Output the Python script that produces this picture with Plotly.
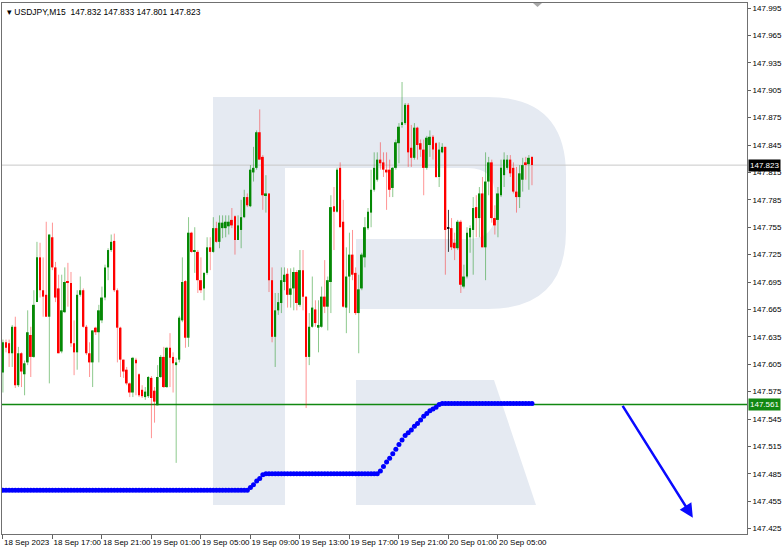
import plotly.graph_objects as go

# ---------------- data (USDJPY M15) ----------------
time_labels = ["18 Sep 2023", "18 Sep 17:00", "18 Sep 21:00", "19 Sep 01:00", "19 Sep 05:00",
               "19 Sep 09:00", "19 Sep 13:00", "19 Sep 17:00", "19 Sep 21:00", "20 Sep 01:00",
               "20 Sep 05:00"]
bars_per_label = 16

opens = [
    147.596, 147.629, 147.628, 147.617, 147.646, 147.582, 147.617, 147.594, 147.607, 147.637,
    147.613, 147.673, 147.722, 147.686, 147.681, 147.657, 147.744, 147.711, 147.688, 147.619,
    147.662, 147.696, 147.694, 147.628, 147.618, 147.681, 147.686, 147.646, 147.617, 147.607,
    147.645, 147.640, 147.653, 147.678, 147.711, 147.730, 147.740, 147.686, 147.645, 147.610,
    147.599, 147.584, 147.574, 147.610, 147.594, 147.577, 147.569, 147.570, 147.590, 147.576,
    147.560, 147.591, 147.613, 147.580, 147.623, 147.613, 147.604, 147.610, 147.653, 147.696,
    147.634, 147.749, 147.728, 147.728, 147.697, 147.688, 147.705, 147.733, 147.728, 147.754,
    147.739, 147.754, 147.754, 147.756, 147.763, 147.767, 147.741, 147.752, 147.766, 147.788,
    147.778, 147.815, 147.820, 147.859, 147.832, 147.790, 147.792, 147.697, 147.635, 147.664,
    147.672, 147.695, 147.704, 147.681, 147.688, 147.706, 147.670, 147.708, 147.679, 147.613,
    147.646, 147.665, 147.645, 147.646, 147.679, 147.668, 147.695, 147.778, 147.772, 147.820,
    147.761, 147.667, 147.701, 147.725, 147.705, 147.661, 147.688, 147.722, 147.754, 147.771,
    147.796, 147.807, 147.829, 147.826, 147.818, 147.818, 147.798, 147.820, 147.847, 147.867,
    147.869, 147.889, 147.842, 147.831, 147.864, 147.847, 147.840, 147.820, 147.845, 147.854,
    147.847, 147.810, 147.837, 147.843, 147.754, 147.754, 147.738, 147.732, 147.761, 147.690,
    147.701, 147.744, 147.752, 147.777, 147.765, 147.792, 147.733, 147.805, 147.826, 147.765,
    147.763, 147.790, 147.812, 147.820, 147.829, 147.820, 147.794, 147.788, 147.807, 147.826,
    147.824, 147.832]

highs = [
    147.632, 147.632, 147.632, 147.648, 147.657, 147.624, 147.618, 147.609, 147.664, 147.646,
    147.686, 147.739, 147.738, 147.722, 147.761, 147.747, 147.760, 147.717, 147.703, 147.703,
    147.711, 147.716, 147.706, 147.653, 147.686, 147.701, 147.688, 147.648, 147.629, 147.642,
    147.646, 147.670, 147.690, 147.714, 147.732, 147.747, 147.748, 147.688, 147.646, 147.610,
    147.602, 147.585, 147.613, 147.612, 147.595, 147.582, 147.580, 147.592, 147.592, 147.580,
    147.604, 147.615, 147.624, 147.624, 147.639, 147.618, 147.612, 147.658, 147.722, 147.697,
    147.766, 147.750, 147.755, 147.730, 147.722, 147.706, 147.744, 147.744, 147.766, 147.761,
    147.768, 147.768, 147.768, 147.768, 147.776, 147.768, 147.768, 147.785, 147.796, 147.792,
    147.823, 147.843, 147.861, 147.884, 147.834, 147.812, 147.792, 147.711, 147.683, 147.683,
    147.711, 147.711, 147.710, 147.710, 147.711, 147.708, 147.730, 147.730, 147.679, 147.661,
    147.701, 147.675, 147.675, 147.690, 147.719, 147.701, 147.790, 147.799, 147.820, 147.826,
    147.785, 147.733, 147.749, 147.752, 147.711, 147.703, 147.727, 147.766, 147.776, 147.818,
    147.837, 147.837, 147.848, 147.837, 147.837, 147.829, 147.821, 147.851, 147.869, 147.914,
    147.891, 147.891, 147.867, 147.869, 147.865, 147.851, 147.851, 147.855, 147.861, 147.856,
    147.848, 147.848, 147.847, 147.843, 147.774, 147.765, 147.749, 147.763, 147.763, 147.714,
    147.755, 147.757, 147.788, 147.790, 147.799, 147.810, 147.837, 147.832, 147.829, 147.779,
    147.799, 147.829, 147.837, 147.834, 147.834, 147.826, 147.821, 147.823, 147.831, 147.832,
    147.834, 147.833]

lows = [
    147.574, 147.618, 147.602, 147.602, 147.579, 147.580, 147.580, 147.571, 147.604, 147.591,
    147.612, 147.673, 147.678, 147.657, 147.657, 147.584, 147.708, 147.673, 147.617, 147.617,
    147.661, 147.668, 147.624, 147.593, 147.599, 147.679, 147.645, 147.615, 147.591, 147.580,
    147.637, 147.607, 147.650, 147.675, 147.697, 147.728, 147.684, 147.607, 147.591, 147.590,
    147.582, 147.569, 147.569, 147.571, 147.569, 147.568, 147.566, 147.568, 147.524, 147.541,
    147.560, 147.590, 147.579, 147.579, 147.580, 147.574, 147.497, 147.607, 147.651, 147.623,
    147.624, 147.727, 147.705, 147.683, 147.683, 147.675, 147.703, 147.708, 147.727, 147.738,
    147.732, 147.743, 147.744, 147.747, 147.754, 147.725, 147.741, 147.732, 147.765, 147.777,
    147.777, 147.805, 147.818, 147.829, 147.774, 147.771, 147.684, 147.629, 147.602, 147.659,
    147.661, 147.686, 147.667, 147.667, 147.664, 147.664, 147.668, 147.664, 147.557, 147.604,
    147.645, 147.646, 147.618, 147.645, 147.661, 147.642, 147.661, 147.730, 147.771, 147.755,
    147.667, 147.639, 147.661, 147.697, 147.659, 147.617, 147.686, 147.711, 147.752, 147.755,
    147.794, 147.805, 147.818, 147.810, 147.774, 147.788, 147.788, 147.818, 147.825, 147.864,
    147.867, 147.821, 147.821, 147.829, 147.829, 147.832, 147.790, 147.818, 147.832, 147.829,
    147.809, 147.799, 147.836, 147.703, 147.728, 147.730, 147.719, 147.730, 147.683, 147.688,
    147.699, 147.727, 147.703, 147.744, 147.744, 147.733, 147.697, 147.790, 147.760, 147.747,
    147.744, 147.788, 147.799, 147.818, 147.810, 147.792, 147.771, 147.776, 147.794, 147.807,
    147.796, 147.801]

closes = [
    147.629, 147.623, 147.617, 147.646, 147.582, 147.617, 147.597, 147.606, 147.640, 147.613,
    147.670, 147.722, 147.686, 147.679, 147.657, 147.747, 147.711, 147.678, 147.617, 147.664,
    147.695, 147.694, 147.628, 147.618, 147.681, 147.686, 147.646, 147.617, 147.607, 147.642,
    147.640, 147.664, 147.678, 147.711, 147.730, 147.739, 147.686, 147.645, 147.610, 147.597,
    147.584, 147.574, 147.612, 147.606, 147.571, 147.570, 147.575, 147.591, 147.568, 147.564,
    147.591, 147.613, 147.580, 147.623, 147.612, 147.606, 147.607, 147.656, 147.695, 147.634,
    147.749, 147.728, 147.730, 147.697, 147.686, 147.705, 147.733, 147.728, 147.754, 147.739,
    147.760, 147.760, 147.761, 147.761, 147.757, 147.741, 147.757, 147.766, 147.788, 147.779,
    147.818, 147.820, 147.859, 147.829, 147.790, 147.792, 147.697, 147.635, 147.664, 147.673,
    147.697, 147.703, 147.681, 147.688, 147.706, 147.672, 147.708, 147.679, 147.613, 147.646,
    147.667, 147.650, 147.648, 147.679, 147.668, 147.697, 147.777, 147.772, 147.818, 147.755,
    147.668, 147.701, 147.725, 147.703, 147.661, 147.687, 147.725, 147.755, 147.772, 147.796,
    147.820, 147.829, 147.825, 147.818, 147.815, 147.796, 147.820, 147.848, 147.865, 147.870,
    147.889, 147.837, 147.831, 147.864, 147.845, 147.840, 147.820, 147.853, 147.854, 147.840,
    147.810, 147.840, 147.843, 147.752, 147.754, 147.733, 147.732, 147.761, 147.692, 147.701,
    147.749, 147.754, 147.776, 147.765, 147.792, 147.733, 147.805, 147.826, 147.765, 147.757,
    147.792, 147.820, 147.829, 147.829, 147.814, 147.794, 147.788, 147.814, 147.823, 147.824,
    147.831, 147.823]

# blue dotted indicator line
indicator = ([147.467] * 80
             + [147.470, 147.473, 147.477, 147.480, 147.484]
             + [147.485] * 37
             + [147.488, 147.493, 147.498, 147.502, 147.507, 147.512, 147.517, 147.522, 147.527, 147.530,
                147.533, 147.537, 147.540, 147.544, 147.548, 147.551, 147.554, 147.556, 147.558, 147.561]
             + [147.562] * 30)

support_level = 147.561
forecast_from = (200, 147.561)   # (bar index, price)
forecast_to = (223, 147.437)

y_ticks = [147.425, 147.455, 147.485, 147.515, 147.545, 147.575, 147.605, 147.635, 147.665, 147.695,
           147.725, 147.755, 147.785, 147.815, 147.845, 147.875, 147.905, 147.935, 147.965, 147.995]

# ---------------- figure ----------------
W, H = 782, 549
ML, MR, MT, MB = 2, 35, 3, 15
GREEN = "#078a07"
RED = "#ff0000"
FONT = "Liberation Sans"

n = len(opens)
idx = list(range(n))

fig = go.Figure()

# wicks
groups = {"up": ([], [], "rgba(0,135,0,0.45)"), "dn": ([], [], "rgba(255,0,0,0.42)"),
          "eq": ([], [], "rgba(0,0,0,0.75)")}
for i in idx:
    k = "up" if closes[i] > opens[i] else ("dn" if closes[i] < opens[i] else "eq")
    groups[k][0].extend([i, i, None])
    groups[k][1].extend([lows[i], highs[i], None])
for k, (xs, ys, col) in groups.items():
    fig.add_trace(go.Scatter(x=xs, y=ys, mode="lines", line=dict(color=col, width=1),
                             hoverinfo="skip", showlegend=False))

# bodies
bodies = {"up": ([], [], [], GREEN), "dn": ([], [], [], RED), "eq": ([], [], [], "#222222")}
for i in idx:
    k = "up" if closes[i] > opens[i] else ("dn" if closes[i] < opens[i] else "eq")
    bodies[k][0].append(i)
    bodies[k][1].append(min(opens[i], closes[i]))
    bodies[k][2].append(max(abs(closes[i] - opens[i]), 0.0008))
for k, (xs, bs, hs, col) in bodies.items():
    fig.add_trace(go.Bar(x=xs, y=hs, base=bs, width=0.62, marker=dict(color=col, line=dict(width=0)),
                         showlegend=False, hoverinfo="skip"))

# indicator dots
fig.add_trace(go.Scatter(x=idx, y=indicator, mode="markers",
                         marker=dict(color="#0000ff", size=5, line=dict(width=0)),
                         showlegend=False, hoverinfo="skip"))

# ---- watermark logo (paper coords from pixel positions) ----
PW = W - ML - MR
PH = H - MT - MB


def P(px, py):
    return f"{(px - ML) / PW:.5f},{(H - MB - py) / PH:.5f}"


logo_col = "#e5eaf2"
stem = f"M{P(213,97)} L{P(285,97)} L{P(285,505)} L{P(213,505)} Z"
bowl = (f"M{P(285,97)} L{P(488,97)} Q{P(566,97)} {P(566,175)} L{P(566,231)} Q{P(566,309)} {P(488,309)} "
        f"L{P(356,309)} L{P(356,239)} L{P(468,239)} Q{P(495,239)} {P(495,212)} L{P(495,195)} "
        f"Q{P(495,168)} {P(468,168)} L{P(285,168)} Z")
leg = f"M{P(356,380)} L{P(494,380)} L{P(536,505)} L{P(356,505)} Z"
shapes = []
for pth in (stem, bowl, leg):
    shapes.append(dict(type="path", path=pth, xref="paper", yref="paper", fillcolor=logo_col,
                       line=dict(width=0), layer="below"))
# chart shift marker at top
shapes.append(dict(type="path", path=f"M{P(533,3)} L{P(542,3)} L{P(537.5,7)} Z", xref="paper",
                   yref="paper", fillcolor="#a8a8a8", line=dict(width=0), layer="above"))
# current price line
shapes.append(dict(type="line", xref="paper", x0=0, x1=1, yref="y", y0=closes[-1], y1=closes[-1],
                   line=dict(color="#c8c8c8", width=1), layer="below"))
# support line
shapes.append(dict(type="line", xref="paper", x0=0, x1=1, yref="y", y0=support_level, y1=support_level,
                   line=dict(color="#118811", width=1.5), layer="below"))

annotations = [
    dict(xref="paper", yref="paper", x=0, y=1, xanchor="left", yanchor="top", xshift=3, yshift=-2,
         showarrow=False, align="left",
         text=f"▾ USDJPY,M15  {opens[-1]:.3f} {highs[-1]:.3f} {lows[-1]:.3f} {closes[-1]:.3f}",
         font=dict(family=FONT, size=8.5, color="#000000")),
    dict(xref="paper", yref="y", x=1, y=closes[-1], xanchor="left", yanchor="middle", xshift=1,
         showarrow=False, text=f"{closes[-1]:.3f}", bgcolor="#000000", borderpad=1,
         font=dict(family=FONT, size=8, color="#ffffff")),
    dict(xref="paper", yref="y", x=1, y=support_level, xanchor="left", yanchor="middle", xshift=1,
         showarrow=False, text=f"{support_level:.3f}", bgcolor="#118811", borderpad=1,
         font=dict(family=FONT, size=8, color="#ffffff")),
    dict(x=forecast_to[0], y=forecast_to[1], ax=forecast_from[0], ay=forecast_from[1],
         xref="x", yref="y", axref="x", ayref="y", showarrow=True, arrowhead=2, arrowsize=1.1,
         arrowwidth=2.5, arrowcolor="#0a0aff", text=""),
]

fig.update_layout(
    width=W, height=H, margin=dict(l=ML, r=MR, t=MT, b=MB, autoexpand=False),
    paper_bgcolor="#ffffff", plot_bgcolor="#ffffff",
    barmode="overlay", showlegend=False, hovermode=False,
    shapes=shapes, annotations=annotations,
    xaxis=dict(range=[-0.3, 240.5], tickvals=[k * bars_per_label for k in range(len(time_labels))],
               ticktext=time_labels, ticks="outside", ticklen=4, tickcolor="#606060", tickangle=0,
               ticklabelposition="outside right", showgrid=False, zeroline=False, automargin=False,
               showline=True, linecolor="#707070", linewidth=1, mirror=True,
               tickfont=dict(family=FONT, size=8, color="#000000")),
    yaxis=dict(side="right", range=[147.4191, 148.0005], tickvals=y_ticks, automargin=False,
               ticktext=[f"{v:.3f}" for v in y_ticks], ticks="outside", ticklen=3, tickcolor="#606060",
               showgrid=False, zeroline=False, showline=True, linecolor="#707070", linewidth=1,
               mirror=True, tickfont=dict(family=FONT, size=8, color="#000000")),
)

fig.write_html("out.html", config={"displayModeBar": False},
               post_script="document.body.style.margin='0';document.body.style.padding='0';")
